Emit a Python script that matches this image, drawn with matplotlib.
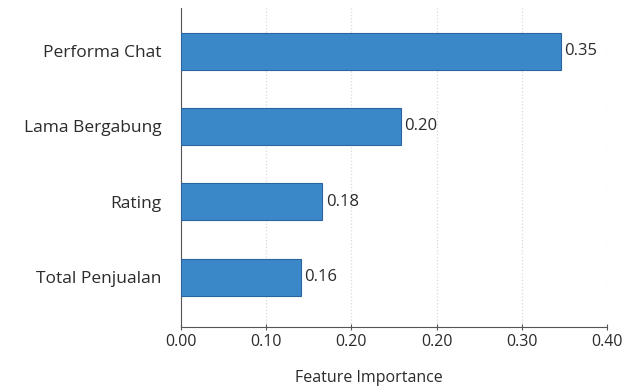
import matplotlib.pyplot as plt

# data (bar lengths read against the axis scale, labels as printed)
fitur = ["Performa Chat", "Lama Bergabung", "Rating", "Total Penjualan"]
panjang_bar = [0.446, 0.258, 0.166, 0.141]
label_nilai = ["0.35", "0.20", "0.18", "0.16"]
posisi_tick = [0.0, 0.1, 0.2, 0.3, 0.4, 0.5]
label_tick = ["0.00", "0.10", "0.20", "0.20", "0.30", "0.40"]

plt.rcParams["font.family"] = ["Open Sans", "DejaVu Sans"]
warna_teks = "#2b2b2b"

fig = plt.figure(figsize=(6.25, 3.87), dpi=100)
ax = fig.add_axes([0.2896, 0.155, 0.6816, 0.824])

y = list(range(len(fitur)))[::-1]
ax.barh(y, panjang_bar, height=0.49, color="#3b88c9", edgecolor="#2a64a0", linewidth=0.8, zorder=3)

for yi, v, lab in zip(y, panjang_bar, label_nilai):
    ax.text(v + 0.004, yi, lab, va="center", ha="left", fontsize=12, color=warna_teks)

ax.set_yticks(y)
ax.set_yticklabels(fitur, fontsize=12.5, color=warna_teks)
ax.tick_params(axis="y", length=0, pad=14)

ax.set_xlim(0, 0.5)
ax.set_ylim(-0.66, 3.57)
ax.set_xticks(posisi_tick)
ax.set_xticklabels(label_tick, fontsize=11.5, color=warna_teks)
ax.tick_params(axis="x", length=4, direction="inout", color="#555555", pad=3)

ax.grid(axis="x", linestyle=":", color="#d9d9d9", linewidth=0.9, zorder=0)
ax.spines["top"].set_visible(False)
ax.spines["right"].set_visible(False)
ax.spines["left"].set_color("#555555")
ax.spines["bottom"].set_color("#555555")

ax.set_xlabel("Feature Importance", fontsize=11.5, color=warna_teks)
ax.xaxis.set_label_coords(0.44, -0.135)

plt.savefig("out.png", dpi=100)
